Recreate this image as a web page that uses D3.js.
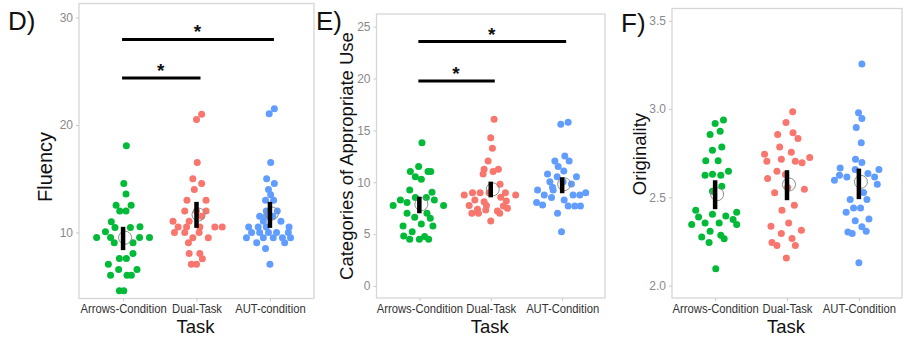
<!DOCTYPE html>
<html>
<head>
<meta charset="utf-8">
<script src="https://cdn.jsdelivr.net/npm/d3@7"></script>
<style>
  body { margin: 0; background: #fff; }
  svg { display: block; }
</style>
</head>
<body>
<script>
// categories
const tasksD = ["Arrows-Condition", "Dual-Task", "AUT-condition"];
const tasksEF = ["Arrows-Condition", "Dual-Task", "AUT-Condition"];
const colors = ["#00BA38", "#F8766D", "#619CFF"];

// each point: [value, horizontal jitter in category steps]
const fluencyArrows = [[18.06,0.045],[14.56,0.01],[13.57,0.04],[12.54,-0.095],[12.54,0.11],[12.0,-0.045],[12.0,0.04],[11.0,-0.16],[10.06,-0.24],[10.47,-0.11],[10.47,0.1],[10.53,0.23],[9.53,-0.36],[9.53,-0.17],[9.53,0.225],[9.53,0.36],[9.04,-0.12],[9.04,0.135],[8.05,0.135],[7.58,-0.05],[7.58,0.045],[7.05,-0.2],[6.56,-0.06],[6.56,0.19],[6.03,-0.17],[6.03,0.054],[6.03,0.113],[4.57,-0.05],[4.57,0.01]];
const fluencyDual = [[21.0,0.07],[20.5,0.0],[16.5,0.01],[15.0,-0.05],[14.55,0.07],[14.0,-0.03],[13.0,-0.13],[13.0,0.13],[12.0,-0.16],[12.0,0.0],[12.0,0.13],[11.5,0.07],[11.05,-0.32],[11.05,-0.1],[10.5,-0.25],[10.5,-0.135],[10.5,0.045],[10.5,0.25],[10.5,0.35],[10.0,-0.3],[10.0,-0.16],[10.0,0.036],[9.5,-0.05],[9.5,0.16],[9.04,-0.11],[8.05,-0.1],[8.05,0.045],[7.55,0.08],[7.05,-0.07],[7.05,0.0]];
const fluencyAUT = [[21.5,0.06],[21.05,-0.01],[16.5,0.01],[15.0,-0.045],[14.55,0.06],[14.0,-0.02],[13.5,0.01],[13.0,-0.06],[13.0,0.05],[12.0,-0.05],[12.0,0.1],[11.5,-0.14],[11.5,-0.05],[11.5,0.04],[11.05,-0.09],[11.05,0.15],[10.5,-0.29],[10.5,-0.16],[10.5,-0.05],[10.5,0.26],[10.0,-0.25],[10.0,-0.14],[10.0,-0.02],[10.0,0.09],[10.0,0.25],[9.5,-0.32],[9.5,-0.09],[9.5,0.045],[9.5,0.17],[9.5,0.28],[9.05,-0.18],[9.05,0.2],[8.5,-0.06],[7.05,0.0]];
const fluencyMean = [9.52, 11.67, 11.77];
const fluencyLow = [8.36, 10.43, 10.43];
const fluencyHigh = [10.53, 12.85, 12.85];

const categoriesArrows = [[13.82,0.037],[11.51,-0.01],[11.03,-0.126],[11.03,0.121],[11.03,0.16],[10.54,-0.056],[10.29,0.028],[9.26,-0.135],[9.03,0.177],[8.29,-0.265],[8.04,-0.172],[8.52,-0.056],[8.52,0.098],[8.29,0.21],[7.75,-0.367],[7.75,0.34],[7.01,-0.172],[7.01,0.107],[6.62,-0.065],[6.53,0.153],[5.79,-0.228],[5.98,0.028],[5.79,0.19],[5.24,-0.1],[4.82,-0.219],[4.5,-0.135],[4.5,0.0],[4.76,0.074],[4.5,0.13]];
const categoriesDual = [[16.07,0.047],[14.3,0.0],[13.28,0.023],[12.05,-0.037],[11.25,-0.093],[11.03,0.033],[11.25,0.107],[10.8,-0.107],[9.8,0.13],[9.0,-0.256],[9.0,-0.149],[9.0,-0.023],[9.0,0.205],[8.78,0.349],[8.78,-0.372],[8.55,0.14],[8.29,-0.223],[8.13,-0.093],[8.19,0.219],[7.75,-0.302],[7.75,-0.06],[7.72,0.177],[7.39,-0.186],[7.33,-0.07],[7.49,0.233],[7.01,-0.265],[7.01,-0.172],[7.24,0.093],[7.01,0.126],[6.27,0.0]];
const categoriesAUT = [[15.59,-0.019],[15.78,0.084],[12.54,0.037],[12.05,-0.102],[12.05,0.098],[11.51,-0.056],[11.09,0.023],[10.8,-0.205],[10.54,-0.07],[10.54,0.2],[10.06,-0.172],[10.06,0.014],[9.51,-0.135],[9.84,0.13],[9.26,-0.344],[9.26,-0.126],[9.0,0.33],[8.78,-0.251],[8.78,0.153],[8.78,0.247],[8.52,-0.149],[8.29,0.028],[8.04,-0.358],[7.81,-0.274],[7.71,0.084],[7.71,0.177],[7.71,0.256],[7.01,-0.065],[5.24,-0.009]];
const categoriesMean = [7.88, 9.32, 9.81];
const categoriesLow = [7.01, 8.55, 8.94];
const categoriesHigh = [8.61, 10.06, 10.48];

const originalityArrows = [[2.938,0.116],[2.919,0.0],[2.875,0.07],[2.856,-0.07],[2.786,0.093],[2.767,-0.037],[2.707,-0.13],[2.707,0.042],[2.626,-0.14],[2.631,-0.037],[2.626,0.079],[2.648,0.186],[2.563,0.093],[2.535,-0.037],[2.427,-0.27],[2.416,0.3],[2.389,-0.23],[2.405,-0.037],[2.395,0.149],[2.374,0.25],[2.346,-0.326],[2.355,-0.14],[2.355,0.056],[2.346,0.3],[2.308,-0.07],[2.276,-0.186],[2.285,0.079],[2.265,0.126],[2.244,-0.084],[2.095,0.009]];
const originalityDual = [[2.985,0.079],[2.924,-0.014],[2.856,-0.13],[2.866,0.084],[2.834,0.153],[2.786,-0.102],[2.756,0.06],[2.745,-0.312],[2.705,-0.28],[2.716,-0.079],[2.705,0.116],[2.696,0.209],[2.726,0.316],[2.648,-0.14],[2.629,-0.023],[2.607,-0.27],[2.556,0.009],[2.546,0.242],[2.526,-0.172],[2.456,0.102],[2.427,-0.07],[2.355,0.023],[2.336,-0.223],[2.314,0.2],[2.295,-0.079],[2.267,0.07],[2.244,-0.209],[2.227,-0.14],[2.227,0.116],[2.157,-0.009]];
const originalityAUT = [[3.255,0.042],[2.979,-0.005],[2.947,0.042],[2.896,-0.037],[2.809,0.033],[2.716,-0.047],[2.698,0.042],[2.667,-0.26],[2.597,-0.34],[2.626,-0.27],[2.616,-0.167],[2.658,-0.051],[2.635,0.126],[2.658,0.279],[2.616,0.219],[2.575,0.256],[2.527,0.065],[2.488,-0.121],[2.488,0.112],[2.44,-0.074],[2.44,0.023],[2.416,-0.177],[2.378,0.14],[2.367,-0.051],[2.304,-0.153],[2.295,-0.093],[2.333,0.042],[2.308,0.102],[2.129,0.0]];
const originalityMean = [2.518, 2.573, 2.588];
const originalityLow = [2.433, 2.484, 2.49];
const originalityHigh = [2.597, 2.654, 2.663];

// significance brackets: [from category, to category, value]
const fluencySig = [[0, 2, 27.96], [0, 1, 24.36]];
const categoriesSig = [[0, 2, 23.56], [0, 1, 19.77]];

const fluencyTicks = [10, 20, 30];
const categoriesTicks = [0, 5, 10, 15, 20, 25];
const originalityTicks = [2.0, 2.5, 3.0, 3.5];

const FONT = "'Liberation Sans', Arial, Helvetica, sans-serif";

const svg = d3.select("body").append("svg")
  .attr("width", 915)
  .attr("height", 339)
  .style("font-family", FONT);

function drawPanel(p) {
  const x = d3.scalePoint().domain(p.cats).range([p.x0, p.x1]).padding(0.6);
  const y = d3.scaleLinear().domain(p.yDomain).range([p.y1, p.y0]);
  const g = svg.append("g");

  g.append("rect")
    .attr("x", p.x0).attr("y", p.y0)
    .attr("width", p.x1 - p.x0).attr("height", p.y1 - p.y0)
    .attr("fill", "none")
    .attr("stroke", "#d6d6d6")
    .attr("stroke-width", 1.3);

  const ya = g.append("g")
    .attr("transform", "translate(" + p.x0 + ",0)")
    .call(d3.axisLeft(y).tickValues(p.ticks).tickFormat(p.fmt).tickSize(3).tickPadding(3));
  ya.attr("font-family", FONT).attr("font-size", 12);
  ya.select(".domain").remove();
  ya.selectAll("line").attr("stroke", "#c8c8c8");
  ya.selectAll("text").attr("fill", "#8a8a8a");

  const xa = g.append("g")
    .attr("transform", "translate(0," + p.y1 + ")")
    .call(d3.axisBottom(x).tickSize(3).tickPadding(3));
  xa.attr("font-family", FONT).attr("font-size", 12.5);
  xa.select(".domain").remove();
  xa.selectAll("line").attr("stroke", "#c8c8c8");
  // the labels in the picture are a little narrower than Arial
  xa.selectAll("text").attr("fill", "#333").attr("transform", "scale(0.9,1)");

  // axis titles
  g.append("text")
    .attr("x", (p.x0 + p.x1) / 2 - 1).attr("y", 333)
    .attr("text-anchor", "middle")
    .attr("font-size", 18.5)
    .attr("fill", "#111")
    .text("Task");

  g.append("text")
    .attr("transform", "translate(" + (p.x0 - p.titleGap) + "," + p.titleMid + ") rotate(-90)")
    .attr("dy", "0.35em")
    .attr("text-anchor", "middle")
    .attr("font-size", p.titleSize)
    .attr("fill", "#111")
    .text(p.title);

  g.append("text")
    .attr("x", p.labelX).attr("y", p.labelY)
    .attr("font-size", 26)
    .attr("fill", "#111")
    .text(p.label);

  // jittered points
  p.series.forEach((s, i) => {
    g.append("g").selectAll("circle")
      .data(s)
      .join("circle")
      .attr("cx", d => x(p.cats[i]) + d[1] * x.step())
      .attr("cy", d => y(d[0]))
      .attr("r", 3.5)
      .attr("fill", colors[i]);
  });

  // mean circle + error bar
  p.cats.forEach((c, i) => {
    g.append("circle")
      .attr("cx", x(c) + 2)
      .attr("cy", y(p.mean[i]))
      .attr("r", 6.5)
      .attr("fill", "none")
      .attr("stroke", "#8c8c8c")
      .attr("stroke-width", 1);
    g.append("line")
      .attr("x1", x(c)).attr("x2", x(c))
      .attr("y1", y(p.low[i])).attr("y2", y(p.high[i]))
      .attr("stroke", "#000")
      .attr("stroke-width", 4.5);
  });

  // significance brackets
  (p.sig || []).forEach(s => {
    const xa0 = x(p.cats[s[0]]), xa1 = x(p.cats[s[1]]) + 4;
    g.append("line")
      .attr("x1", xa0 - 1).attr("x2", xa1)
      .attr("y1", y(s[2])).attr("y2", y(s[2]))
      .attr("stroke", "#000")
      .attr("stroke-width", 3);
    g.append("text")
      .attr("x", (xa0 + xa1) / 2 - 1)
      .attr("y", y(s[2]) - 1)
      .attr("text-anchor", "middle")
      .attr("font-size", 19)
      .attr("font-weight", "bold")
      .attr("fill", "#111")
      .text("*");
  });
}

drawPanel({
  label: "D)", labelX: 8, labelY: 30,
  title: "Fluency", titleSize: 20, titleGap: 34, titleMid: 167,
  cats: tasksD,
  x0: 79, x1: 314, y0: 3.5, y1: 298.5,
  yDomain: [3.86, 31.3],
  ticks: fluencyTicks, fmt: d3.format("d"),
  series: [fluencyArrows, fluencyDual, fluencyAUT],
  mean: fluencyMean, low: fluencyLow, high: fluencyHigh,
  sig: fluencySig
});

drawPanel({
  label: "E)", labelX: 316, labelY: 30,
  title: "Categories of Appropriate Use", titleSize: 18.5, titleGap: 30, titleMid: 156,
  cats: tasksEF,
  x0: 376.5, x1: 605, y0: 14, y1: 298,
  yDomain: [-1.157, 26.22],
  ticks: categoriesTicks, fmt: d3.format("d"),
  series: [categoriesArrows, categoriesDual, categoriesAUT],
  mean: categoriesMean, low: categoriesLow, high: categoriesHigh,
  sig: categoriesSig
});

drawPanel({
  label: "F)", labelX: 621, labelY: 31.5,
  title: "Originality", titleSize: 18.5, titleGap: 32, titleMid: 154,
  cats: tasksEF,
  x0: 672, x1: 902, y0: 8.5, y1: 298,
  yDomain: [1.93, 3.57],
  ticks: originalityTicks, fmt: d3.format(".1f"),
  series: [originalityArrows, originalityDual, originalityAUT],
  mean: originalityMean, low: originalityLow, high: originalityHigh
});
</script>
</body>
</html>
